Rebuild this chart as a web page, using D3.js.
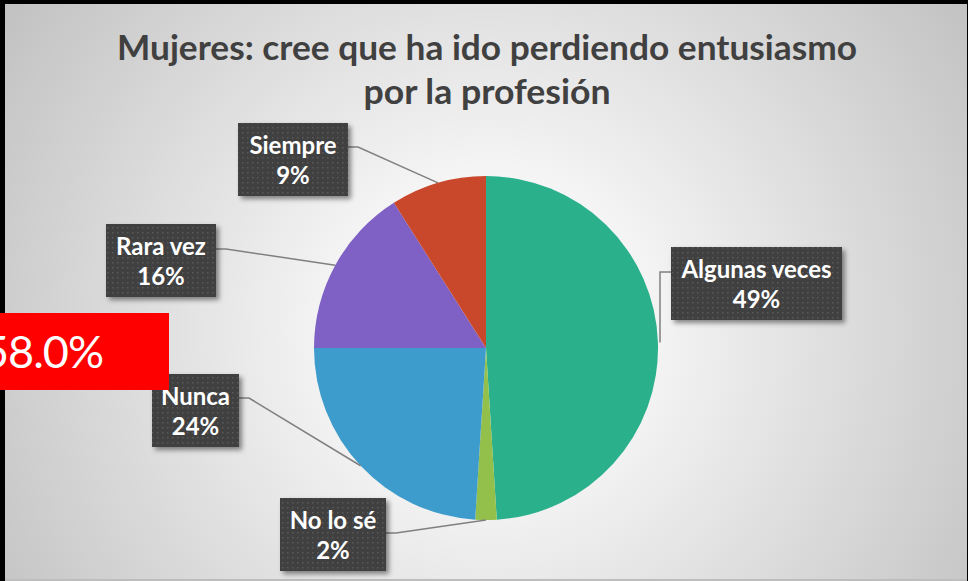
<!DOCTYPE html>
<html>
<head>
    <title>Mujeres: entusiasmo por la profesión</title>
    <script src="https://d3js.org/d3.v7.min.js"></script>
    <style>
        body { margin: 0; overflow: hidden; }
        text { font-family: Lato, "Open Sans", sans-serif; }
    </style>
</head>
<body>
    <div id="chart"></div>

    <script>
        // data
        const categories = ["Algunas veces", "No lo sé", "Nunca", "Rara vez", "Siempre"];
        const percents = [49, 2, 24, 16, 9];
        const colors = ["#2ab08b", "#93c04b", "#3d9ccc", "#7f60c4", "#c9482c"];
        const titleLines = ["Mujeres: cree que ha ido perdiendo entusiasmo", "por la profesión"];
        const badgeText = "58.0%";

        // label box layout (left, top, width, leader attach y, side of attach)
        const labelLayout = [
            { x: 671, y: 247, w: 171, ay: 25, side: "left", vertical: true },
            { x: 280, y: 498, w: 106, ay: 35, side: "right" },
            { x: 152, y: 374, w: 87, ay: 24, side: "right" },
            { x: 106, y: 224, w: 110, ay: 25, side: "right" },
            { x: 238, y: 123, w: 110, ay: 24, side: "right" }
        ];

        const width = 968;
        const height = 581;
        const cx = 486, cy = 348, radius = 172;

        const svg = d3.select("#chart").append("svg")
            .attr("width", width)
            .attr("height", height);

        const defs = svg.append("defs");

        const grad = defs.append("radialGradient")
            .attr("id", "bg")
            .attr("gradientUnits", "userSpaceOnUse")
            .attr("cx", 490).attr("cy", 330).attr("r", 580);
        grad.append("stop").attr("offset", 0).attr("stop-color", "#ffffff");
        grad.append("stop").attr("offset", 0.25).attr("stop-color", "#f6f6f6");
        grad.append("stop").attr("offset", 1).attr("stop-color", "#c2c2c2");

        const pat = defs.append("pattern")
            .attr("id", "dots")
            .attr("patternUnits", "userSpaceOnUse")
            .attr("width", 5).attr("height", 5);
        pat.append("rect").attr("width", 5).attr("height", 5).attr("fill", "#404040");
        pat.append("rect").attr("x", 2).attr("y", 2).attr("width", 1.5).attr("height", 1.5).attr("fill", "#5a5a5a");

        const shadow = defs.append("filter")
            .attr("id", "shadow")
            .attr("x", "-20%").attr("y", "-20%")
            .attr("width", "150%").attr("height", "150%");
        shadow.append("feDropShadow")
            .attr("dx", 3).attr("dy", 3)
            .attr("stdDeviation", 2.5)
            .attr("flood-color", "#000")
            .attr("flood-opacity", 0.45);

        // frame
        svg.append("rect").attr("width", width).attr("height", height).attr("fill", "#000");
        svg.append("rect")
            .attr("x", 5).attr("y", 4)
            .attr("width", 962).attr("height", 577)
            .attr("fill", "#bdbdbd");
        svg.append("rect")
            .attr("x", 5).attr("y", 4)
            .attr("width", 962).attr("height", 575)
            .attr("fill", "url(#bg)");

        // title
        const title = svg.append("g");
        title.append("text")
            .attr("x", 487).attr("y", 60)
            .attr("text-anchor", "middle")
            .attr("font-size", 34)
            .attr("font-weight", "bold")
            .attr("fill", "#404040")
            .attr("textLength", 740)
            .attr("lengthAdjust", "spacingAndGlyphs")
            .text(titleLines[0]);
        title.append("text")
            .attr("x", 487).attr("y", 104)
            .attr("text-anchor", "middle")
            .attr("font-size", 34)
            .attr("font-weight", "bold")
            .attr("fill", "#404040")
            .attr("textLength", 247)
            .attr("lengthAdjust", "spacingAndGlyphs")
            .text(titleLines[1]);

        // pie
        const pie = d3.pie().sort(null).value(d => d);
        const arcs = pie(percents);
        const arc = d3.arc().innerRadius(0).outerRadius(radius);

        const g = svg.append("g").attr("transform", `translate(${cx},${cy})`);
        g.selectAll("path")
            .data(arcs)
            .enter().append("path")
            .attr("d", arc)
            .attr("fill", (d, i) => colors[i]);

        // leader lines
        const lines = svg.append("g");
        arcs.forEach((d, i) => {
            const mid = (d.startAngle + d.endAngle) / 2;
            const px = cx + radius * Math.sin(mid);
            const py = cy - radius * Math.cos(mid);
            const L = labelLayout[i];
            const ay = L.y + L.ay;
            const edgeX = L.side === "left" ? L.x : L.x + L.w;
            const elbowX = L.side === "left" ? edgeX - 11 : edgeX + 10;
            const pts = L.vertical
                ? [[edgeX, ay], [elbowX, ay], [elbowX, py]]
                : [[edgeX, ay], [elbowX, ay], [px, py]];
            lines.append("path")
                .attr("d", d3.line()(pts))
                .attr("fill", "none")
                .attr("stroke", "#808080")
                .attr("stroke-width", 1.5);
        });

        // label boxes
        const labels = svg.append("g");
        categories.forEach((c, i) => {
            const L = labelLayout[i];
            const lg = labels.append("g");
            lg.append("rect")
                .attr("x", L.x).attr("y", L.y)
                .attr("width", L.w).attr("height", 73)
                .attr("fill", "url(#dots)")
                .attr("filter", "url(#shadow)");
            lg.append("text")
                .attr("x", L.x + L.w / 2).attr("y", L.y + 31)
                .attr("text-anchor", "middle")
                .attr("font-size", 24)
                .attr("font-weight", "bold")
                .attr("fill", "#ffffff")
                .text(c);
            lg.append("text")
                .attr("x", L.x + L.w / 2).attr("y", L.y + 61)
                .attr("text-anchor", "middle")
                .attr("font-size", 24)
                .attr("font-weight", "bold")
                .attr("fill", "#ffffff")
                .text(percents[i] + "%");
        });

        // red badge overlay
        svg.append("rect")
            .attr("x", 0).attr("y", 313)
            .attr("width", 169).attr("height", 77)
            .attr("fill", "#ff0000");
        svg.append("text")
            .attr("x", 103).attr("y", 368)
            .attr("text-anchor", "end")
            .attr("font-size", 45)
            .attr("letter-spacing", -1)
            .attr("fill", "#ffffff")
            .text(badgeText);
    </script>
</body>
</html>
